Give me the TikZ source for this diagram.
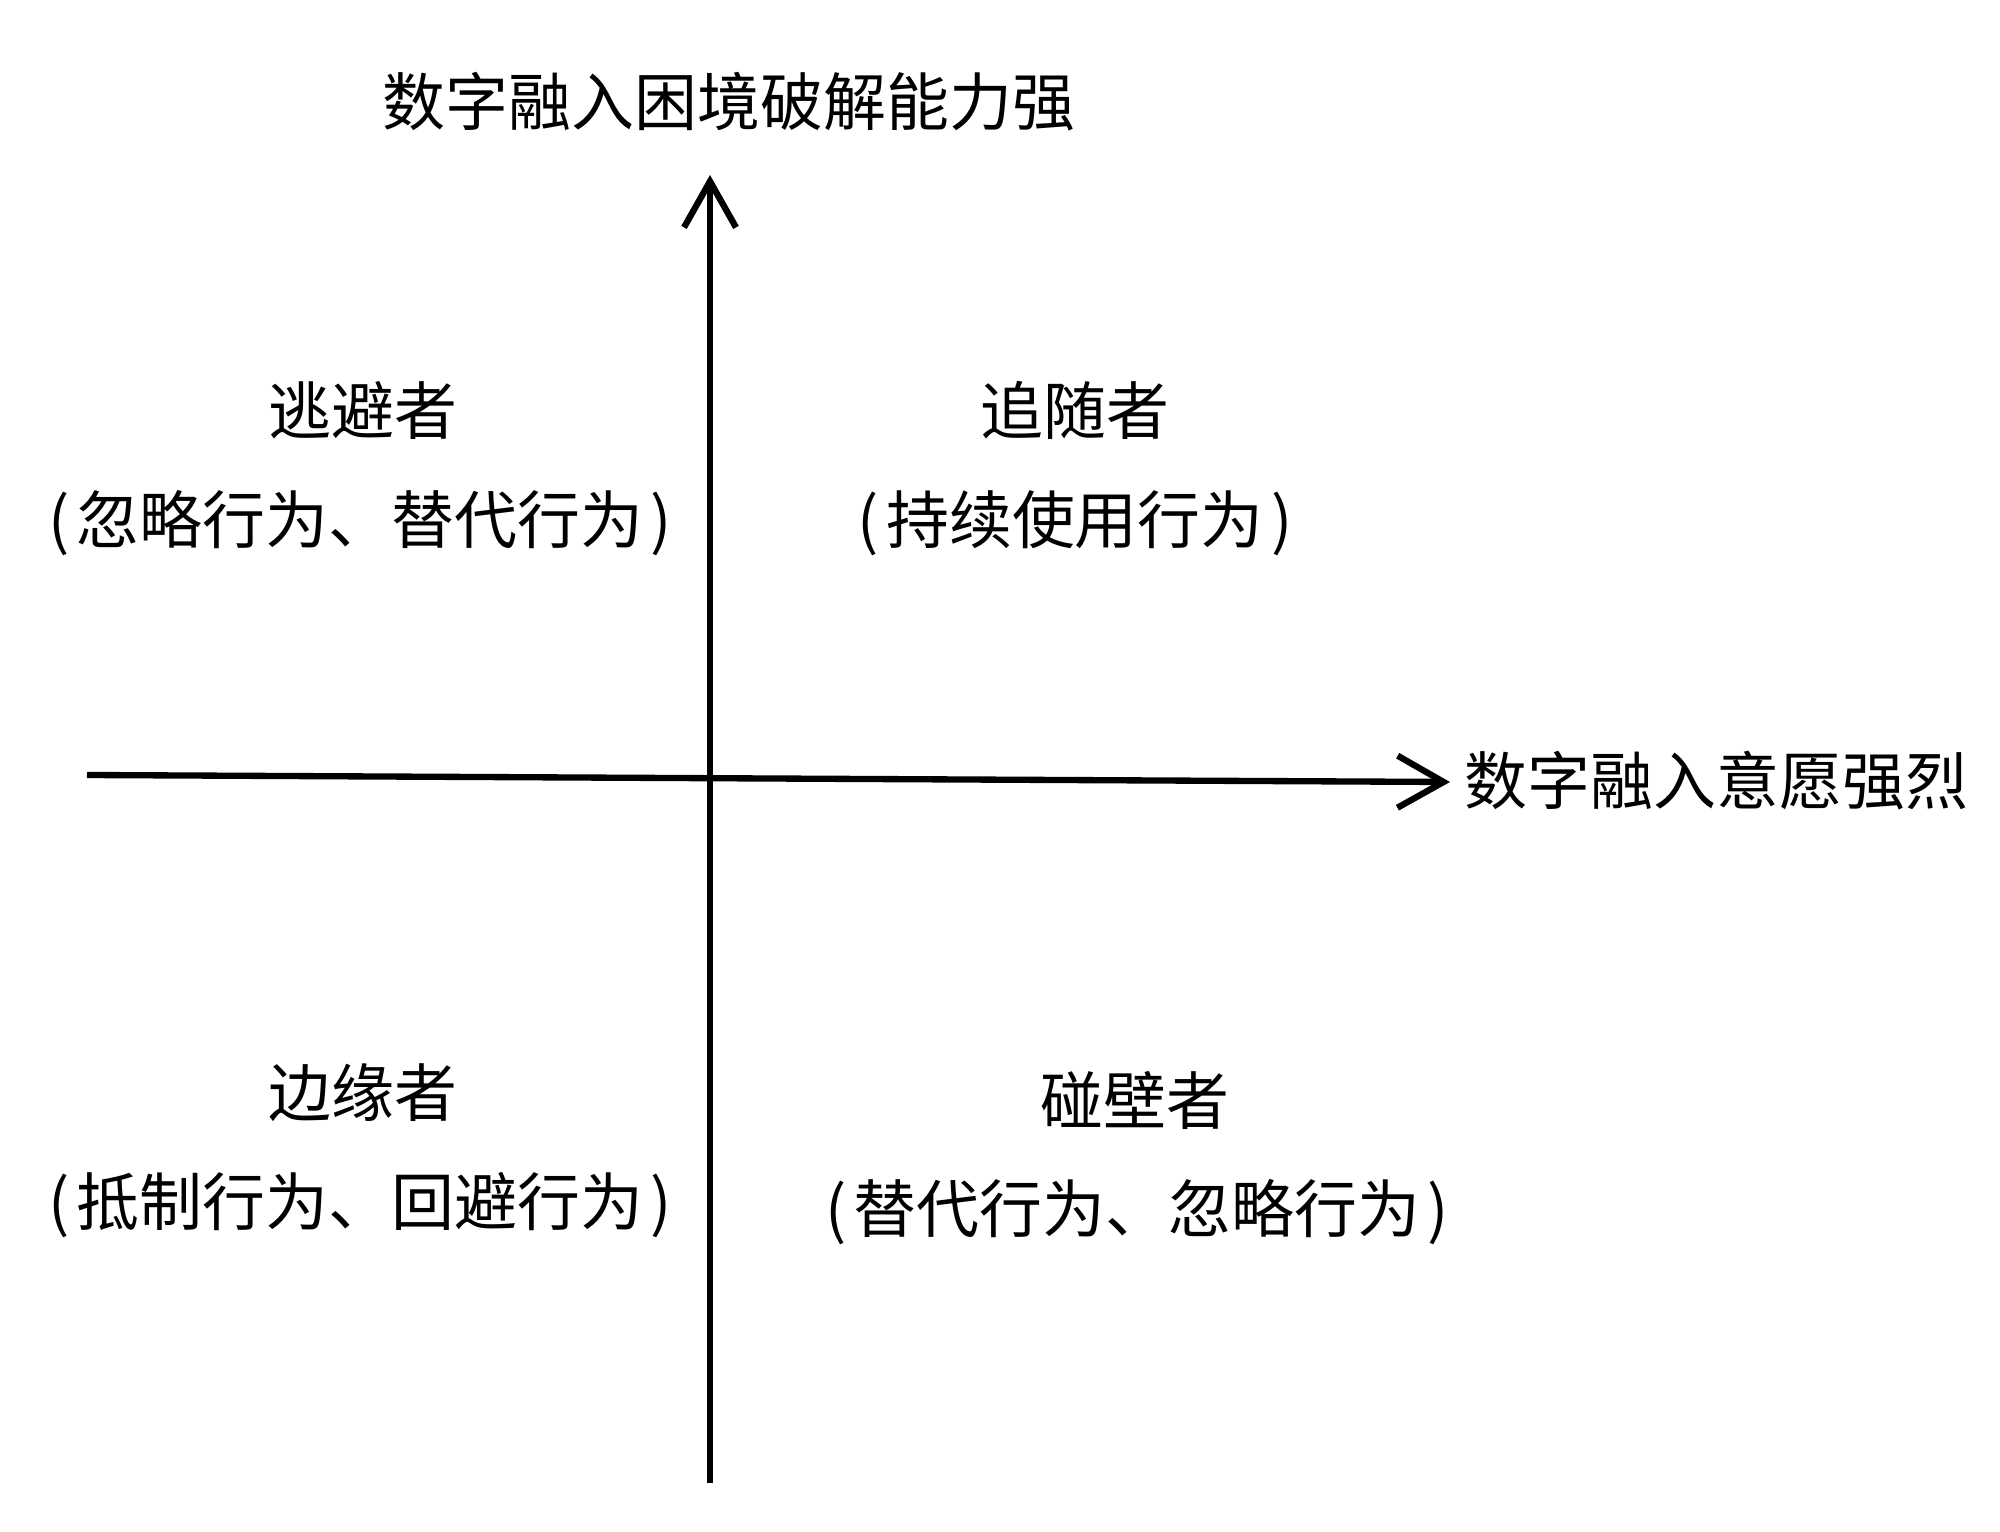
\documentclass[tikz,border=0pt]{standalone}
\usepackage{fontspec}
\newfontfamily\cjk{Noto Sans CJK SC}
\usetikzlibrary{arrows.meta}
\newcommand{\lp}{(\hspace{0.12em}}
\newcommand{\rp}{\hspace{0.12em})}
\begin{document}
\begin{tikzpicture}[x=0.1mm,y=-0.1mm,
  axis/.style={line width=1.8pt,-{Straight Barb[length=4.6mm,width=5.2mm,line width=1.8pt]}},
  lbl/.style={font=\cjk\fontsize{17.9pt}{20pt}\selectfont,inner sep=0pt}]
\useasboundingbox (0,0) rectangle (2000,1532);
\fill[white] (0,0) rectangle (2000,1532);
\coordinate (vb) at (710,1483);
\coordinate (vt) at (710,175);
\coordinate (hl) at (87,775);
\coordinate (hr) at (1450,782);
\draw[axis] (vb) -- (vt);
\draw[axis] (hl) -- (hr);
\node[lbl] (ylab) at (729,102) {数字融入困境破解能力强};
\node[lbl,anchor=west] (xlab) at (1464,781) {数字融入意愿强烈};
\node[lbl] (q1a) at (363,410) {逃避者};
\node[lbl] (q1b) at (360,523) {\lp 忽略行为、替代行为\rp};
\node[lbl] (q2a) at (1075,410) {追随者};
\node[lbl] (q2b) at (1075,523) {\lp 持续使用行为\rp};
\node[lbl] (q3a) at (363,1093) {边缘者};
\node[lbl] (q3b) at (360,1205) {\lp 抵制行为、回避行为\rp};
\node[lbl] (q4a) at (1135,1100) {碰壁者};
\node[lbl] (q4b) at (1137,1212) {\lp 替代行为、忽略行为\rp};
\end{tikzpicture}
\end{document}
